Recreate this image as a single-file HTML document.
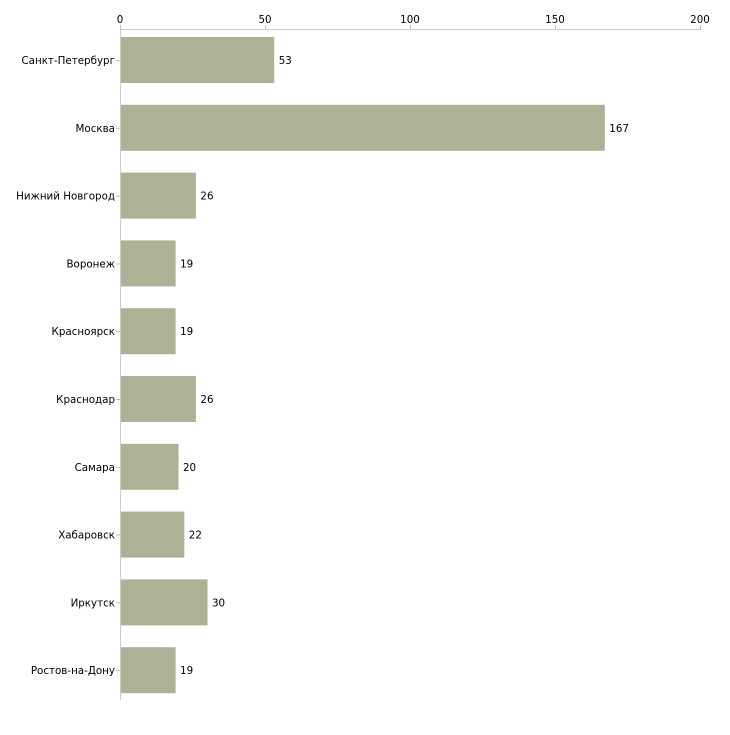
<!DOCTYPE html>
<html><head><meta charset="utf-8"><style>
body{margin:0;background:#fff;width:730px;height:730px;overflow:hidden}
text{font-family:"DejaVu Sans","Liberation Sans",sans-serif;font-size:10.3px;fill:#000}
</style></head><body>
<svg id="chart" width="730" height="730" xmlns="http://www.w3.org/2000/svg"></svg>
<script>
const categories=["Санкт-Петербург","Москва","Нижний Новгород","Воронеж","Красноярск","Краснодар","Самара","Хабаровск","Иркутск","Ростов-на-Дону"];
const values=[53,167,26,19,19,26,20,22,30,19];
const ticks=[0,50,100,150,200];
const svg=document.getElementById('chart');
const NS='http://www.w3.org/2000/svg';
const x=v=>120+v*2.9;
const yc=i=>60+i*67.8;
function mk(t,a){const e=document.createElementNS(NS,t);for(const k in a)e.setAttribute(k,a[k]);svg.appendChild(e);return e;}
let ax=mk('line',{x1:120,y1:29.5,x2:700,y2:29.5,stroke:'#ccc'});


let ay=mk('line',{x1:120.5,y1:29,x2:120.5,y2:700,stroke:'#ccc'});


ticks.forEach(t=>{
  let l=mk('line',{x1:x(t)+0.5,y1:25,x2:x(t)+0.5,y2:30,stroke:'#c8c59a'});
  
  
  let tx=mk('text',{x:x(t),y:23,'text-anchor':'middle'});tx.textContent=t;
  
  
});
categories.forEach((c,i)=>{
  const cy=yc(i);
  let b=mk('rect',{x:121,y:cy-23,width:x(values[i])-120.5,height:46,fill:'#adb296'});
  
  
  let l=mk('line',{x1:116,y1:cy+0.5,x2:120,y2:cy+0.5,stroke:'#c8c59a'});
  
  
  let t=mk('text',{x:115,y:cy+4,'text-anchor':'end'});t.textContent=c;
  
  
  let v=mk('text',{x:x(values[i])+5,y:cy+4});v.textContent=values[i];
  
  
});
</script>
</body></html>
